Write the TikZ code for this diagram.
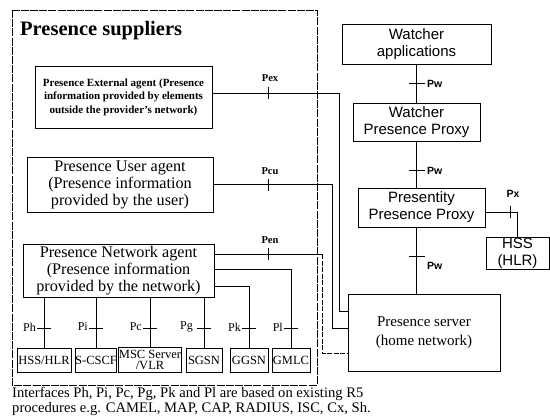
\documentclass[tikz,border=0pt]{standalone}
\usepackage{fontspec}
\setmainfont{Liberation Serif}
\newfontfamily\arialfont{Liberation Sans}
\usepackage{tikz}
\usetikzlibrary{calc}
\tikzset{
  line/.style={draw=black, line width=1pt},
  dline/.style={draw=black, line width=0.9pt, dash pattern=on 5pt off 1.5pt},
  frame/.style={draw=black, line width=0.6pt, dash pattern=on 8pt off 1.2pt},
  sbox/.style={draw=black, line width=1pt, inner sep=0pt, align=center,
    font=\fontsize{16.2}{17}\selectfont},
  abox/.style={sbox, font=\arialfont\fontsize{15}{17}\selectfont},
  nebox/.style={sbox, minimum height=24pt, font=\fontsize{12.5}{11}\selectfont},
  plbl/.style={inner sep=1pt, font=\fontsize{12}{12}\selectfont},
  xlbl/.style={inner sep=1pt, font=\bfseries\fontsize{10.5}{12}\selectfont},
  albl/.style={inner sep=1pt, font=\arialfont\bfseries\fontsize{10.5}{12}\selectfont}
}

\begin{document}
\begin{tikzpicture}[x=1pt, y=-1pt]
  \useasboundingbox (0,0) rectangle (550,416);

  % presence suppliers
  \draw[frame] (12,10) rectangle (317,385);
  \node[anchor=west, inner sep=0pt, font=\bfseries\fontsize{20.5}{22}\selectfont]
    (title) at (20,31) {Presence suppliers};

  \node[sbox, minimum width=177pt, minimum height=62pt,
    font=\bfseries\fontsize{11}{13.5}\selectfont] (ext) at (123.5,97)
    {Presence External agent (Presence\\information provided by elements\\outside the provider's network)};
  \node[sbox, minimum width=186pt, minimum height=55pt] (usr) at (120,184.5)
    {Presence User agent\\(Presence information\\provided by the user)};
  \node[sbox, minimum width=191pt, minimum height=53pt] (net) at (118.5,271)
    {Presence Network agent\\(Presence information\\provided by the network)};

  \node[nebox, minimum width=54pt] (hlr) at (44,360) {HSS/HLR};
  \node[nebox, minimum width=38pt] (cscf) at (96,360) {S-CSCF};
  \node[nebox, minimum width=60pt, minimum height=25pt] (msc) at (150,359.5) {MSC Server\\/VLR};
  \node[nebox, minimum width=36pt] (sgsn) at (204,360) {SGSN};
  \node[nebox, minimum width=38pt] (ggsn) at (249,360) {GGSN};
  \node[nebox, minimum width=38pt] (gmlc) at (291,360) {GMLC};

  % home side
  \node[abox, minimum width=149pt, minimum height=40pt] (wapp) at (416.5,44) {Watcher\\applications};
  \node[abox, minimum width=127pt, minimum height=38pt] (wpp) at (416.5,122) {Watcher\\Presence Proxy};
  \node[abox, minimum width=127pt, minimum height=39pt] (ppp) at (421.5,207.5) {Presentity\\Presence Proxy};
  \node[abox, minimum width=63pt, minimum height=32pt] (hss) at (517.5,253) {HSS\\(HLR)};
  \node[sbox, minimum width=152pt, minimum height=77pt, font=\fontsize{15}{19}\selectfont]
    (srv) at (424,332.5) {Presence server\\(home network)};

  % bend points
  \coordinate (pexBend) at (339,93);
  \coordinate (pcuBend) at (332,184.5);
  \coordinate (penBend) at (322,254);
  \coordinate (pkBend) at (249,286);
  \coordinate (plBend) at (291,269);

  % supplier interfaces
  \draw[line] ([yshift=4pt]ext.east) -- (pexBend) |- ([yshift=21.5pt]srv.west);
  \draw[line] (usr.east) -- (pcuBend) |- ([yshift=4.5pt]srv.west);
  \draw[line] ([yshift=17pt]net.east) -- (penBend);
  \draw[dline] (penBend) |- ([yshift=-20.5pt]srv.west);

  \draw[line] (268,93) ++(0,-6) -- ++(0,12);
  \draw[line] (268,184.5) ++(0,-6) -- ++(0,12);
  \draw[line] (268,254) ++(0,-6) -- ++(0,12);
  \node[xlbl] (lpex) at (270,78) {Pex};
  \node[xlbl] (lpcu) at (270,171) {Pcu};
  \node[xlbl] (lpen) at (270,240) {Pen};

  % network elements
  \draw[line] (hlr.north) -- (hlr.north |- net.south);
  \draw[line] (cscf.north) -- (cscf.north |- net.south);
  \draw[line] (msc.north) -- (msc.north |- net.south);
  \draw[line] (sgsn.north) -- (sgsn.north |- net.south);
  \draw[line] ([yshift=-15pt]net.east) -- (pkBend) -- (ggsn.north);
  \draw[line] ([yshift=2pt]net.east) -- (plBend) -- (gmlc.north);

  \draw[line] (44,328) ++(-7,0) -- ++(14,0);
  \draw[line] (96,328) ++(-7,0) -- ++(14,0);
  \draw[line] (150,328) ++(-7,0) -- ++(14,0);
  \draw[line] (204,328) ++(-7,0) -- ++(14,0);
  \draw[line] (249,328) ++(-7,0) -- ++(14,0);
  \draw[line] (291,328) ++(-7,0) -- ++(14,0);
  \node[plbl, anchor=east] (lph) at (37,327) {Ph};
  \node[plbl, anchor=east] (lpi) at (89,327) {Pi};
  \node[plbl, anchor=east] (lpc) at (143,327) {Pc};
  \node[plbl, anchor=east] (lpg) at (194,327) {Pg};
  \node[plbl, anchor=east] (lpk) at (242,327) {Pk};
  \node[plbl, anchor=east] (lpl) at (284,327) {Pl};

  % watcher side
  \draw[line] (wapp.south) -- (wpp.north);
  \draw[line] (wpp.south) -- (wpp.south |- ppp.north);
  \draw[line] (ppp.south -| wpp.south) -- (srv.north -| wpp.south);
  \draw[line] ([yshift=-4.5pt]ppp.east) -| (hss.north);

  \draw[line] (416.5,83) ++(-8,0) -- ++(16,0);
  \draw[line] (416.5,170) ++(-8,0) -- ++(16,0);
  \draw[line] (416.5,256) ++(-8,0) -- ++(16,0);
  \draw[line] (510,212) ++(0,-6) -- ++(0,12);
  \node[albl, anchor=west] (lpw1) at (426,84) {Pw};
  \node[albl, anchor=west] (lpw2) at (426,171) {Pw};
  \node[albl, anchor=west] (lpw3) at (426,266) {Pw};
  \node[albl] (lpx) at (513,194) {Px};

  % note
  \node[anchor=north west, inner sep=0pt, align=left, font=\fontsize{14.6}{15}\selectfont]
    (note) at (12,387) {Interfaces Ph, Pi, Pc, Pg, Pk and Pl are based on existing R5\\
    procedures e.g. CAMEL, MAP, CAP, RADIUS, ISC, Cx, Sh.};
\end{tikzpicture}
\end{document}
